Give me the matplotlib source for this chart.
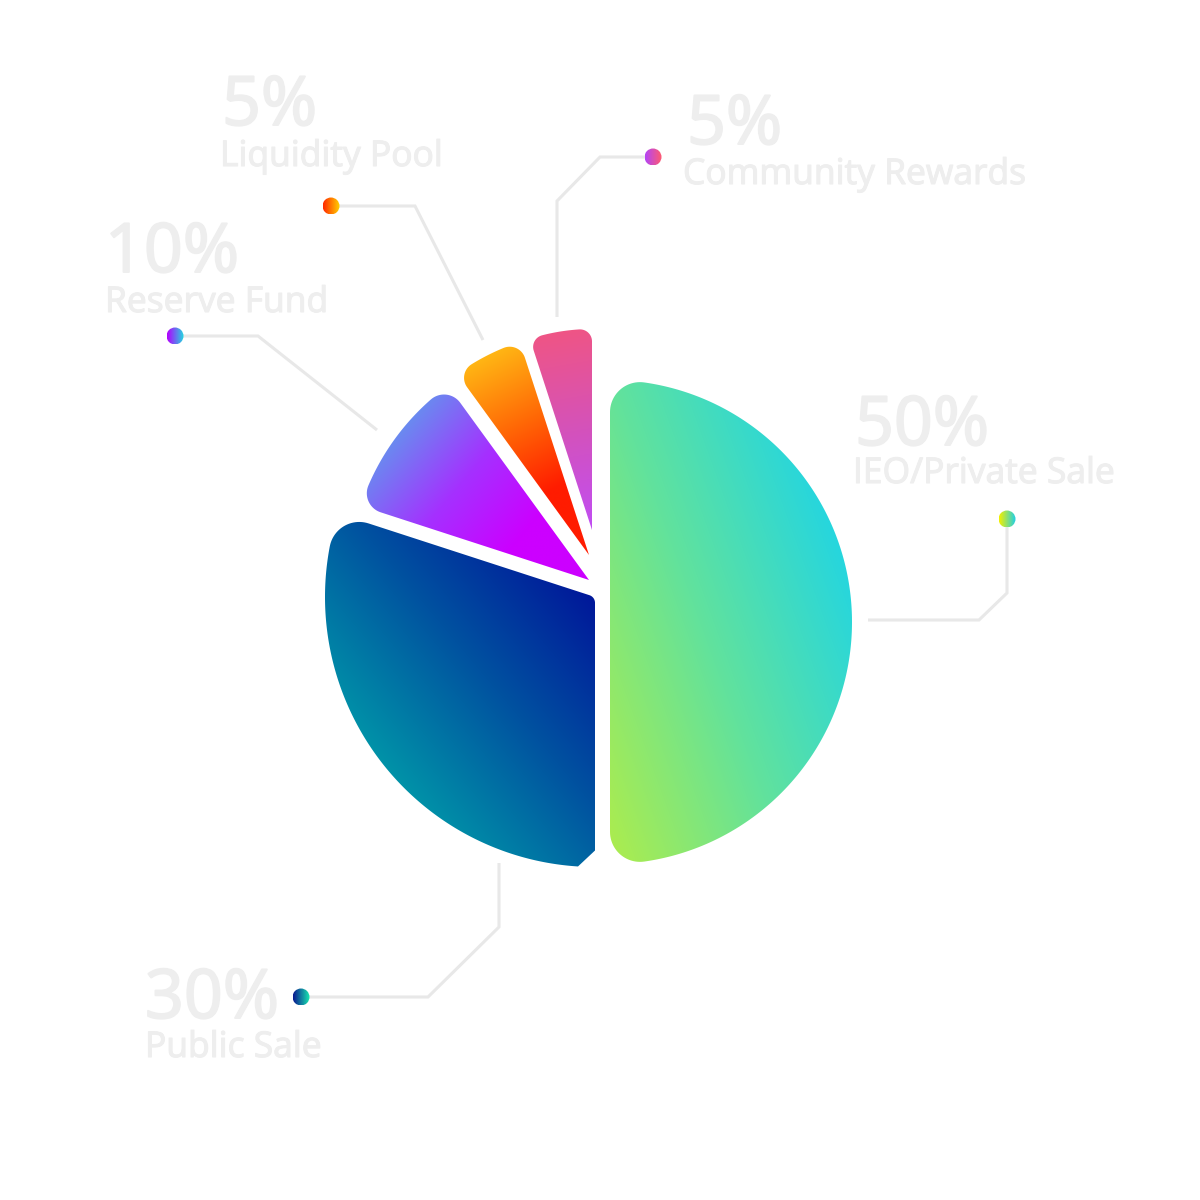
import numpy as np
import matplotlib
matplotlib.use("Agg")
import matplotlib.pyplot as plt
import matplotlib.patheffects as pe
from matplotlib.path import Path
from matplotlib.patches import PathPatch, Circle
from matplotlib.colors import to_rgb

# ---------------- data ----------------
categories = ["IEO/Private Sale", "Public Sale", "Reserve Fund", "Liquidity Pool", "Community Rewards"]
shares = [50, 30, 10, 5, 5]

# ---------------- style ----------------
W = H = 1200
PIE_CENTER = (600, 600)
slice_radius = [242, 270, 240, 224, 201]
slice_shift = [(10, -22), (-5, 3), (-11, 20), (-11, 45), (-8, 70)]
corner_start = [30, 30, 20, 16, 12]      # fillet at wedge.theta1 side
corner_end = [30, 16, 20, 16, 12]        # fillet at wedge.theta2 side
end_style = ['round', 'chamfer', 'round', 'round', 'round']
apex_round = [0, 8, 0, 0, 0]
grad_angle = [20, 40, -40, -63, -80]
grad_colors = [
    ['#aaec50', '#62e29c', '#26d6de'],
    ['#0092a8', '#0052a0', '#00189a'],
    ['#6a8af0', '#a530ff', '#cc00ff', '#cc00ff'],
    ['#ffb614', '#ff6a06', '#ff1c00', '#ff1c00'],
    ['#ef5585', '#d452bb', '#c04ef4'],
]
dot_colors = [('#f2f000', '#1ecfe8'), ('#0a1a90', '#18e8b0'), ('#b400ff', '#22d8e0'),
              ('#ff2a00', '#ffd000'), ('#b445f5', '#ff5a70')]
# label layout in pixel coordinates (x right, y down)
pct_pos = [(855, 445), (145, 1018), (105, 272), (222, 125), (687, 144)]
name_pos = [(853, 483), (145, 1057), (105, 312), (220, 166), (683, 184)]
dot_pos = [(1007, 519), (301, 997), (175, 336), (331, 206), (653, 157)]
leaders = [
    [(1007, 519), (1007, 593), (979, 620), (868, 620)],
    [(301, 997), (428, 997), (499, 927), (499, 863)],
    [(175, 336), (258, 336), (377, 430)],
    [(331, 206), (415, 206), (483, 340)],
    [(653, 157), (600, 157), (557, 201), (557, 317)],
]
TEXT_COLOR = '#eeeeee'
LINE_COLOR = '#e8e8e8'
FONT = ['Open Sans', 'DejaVu Sans']


def px(p):
    return (p[0], H - p[1])


def d(a):
    return np.array([np.cos(a), np.sin(a)])


def arc_pts(c, rad, a0, a1, n):
    a = np.linspace(a0, a1, n)
    return np.column_stack([c[0] + rad * np.cos(a), c[1] + rad * np.sin(a)])


def rounded_wedge_path(center, r, th1, th2, rc1, rc2, style2, ra):
    A = np.asarray(center, float)
    t1, t2 = np.radians(th1), np.radians(th2)
    span = t2 - t1
    pts = []
    if ra > 0 and span < np.pi - 1e-6:
        h = span / 2
        F = A + d(t1 + h) * ra / np.sin(h)
        pts.append(arc_pts(F, ra, t2 + np.pi / 2, t1 + 1.5 * np.pi, 16))
    else:
        pts.append(A[None, :])
    dl1 = np.arcsin(rc1 / (r - rc1))
    F1 = A + (r - rc1) * d(t1 + dl1)
    pts.append(arc_pts(F1, rc1, t1 - np.pi / 2, t1 + dl1, 24))
    dl2 = np.arcsin(rc2 / (r - rc2))
    pts.append(arc_pts(A, r, t1 + dl1, t2 - dl2, 240))
    F2 = A + (r - rc2) * d(t2 - dl2)
    if style2 == 'chamfer':
        pts.append(np.array([A + r * d(t2 - dl2), A + (r - rc2) * np.cos(dl2) * d(t2)]))
    else:
        pts.append(arc_pts(F2, rc2, t2 - dl2, t2 + np.pi / 2, 24))
    verts = np.vstack(pts)
    verts = np.vstack([verts, verts[:1]])
    codes = [Path.MOVETO] + [Path.LINETO] * (len(verts) - 2) + [Path.CLOSEPOLY]
    return Path(verts, codes)


def gradient_fill(ax, path, angle_deg, colors, zorder=2):
    patch = PathPatch(path, facecolor='none', edgecolor='none')
    ax.add_patch(patch)
    v = path.vertices
    x0, y0 = v.min(0) - 2
    x1, y1 = v.max(0) + 2
    nx = int(np.ceil(x1 - x0)) + 1
    ny = int(np.ceil(y1 - y0)) + 1
    X, Y = np.meshgrid(np.linspace(x0, x1, nx), np.linspace(y0, y1, ny))
    u = d(np.radians(angle_deg))
    proj = X * u[0] + Y * u[1]
    pv = v @ u
    t = np.clip((proj - pv.min()) / (pv.max() - pv.min()), 0, 1)
    cols = np.array([to_rgb(c) for c in colors])
    stops = np.linspace(0, 1, len(cols))
    img = np.stack([np.interp(t, stops, cols[:, k]) for k in range(3)], axis=-1)
    im = ax.imshow(img, extent=(x0, x1, y0, y1), origin='lower',
                   interpolation='bilinear', zorder=zorder)
    im.set_clip_path(patch)


def gradient_dot(ax, c, r, c0, c1):
    circ = Circle(c, r, facecolor='none', edgecolor='none')
    ax.add_patch(circ)
    t = np.linspace(0, 1, 32)
    a, b = np.array(to_rgb(c0)), np.array(to_rgb(c1))
    img = (a[None, :] * (1 - t[:, None]) + b[None, :] * t[:, None])[None, :, :]
    im = ax.imshow(img, extent=(c[0] - r, c[0] + r, c[1] - r, c[1] + r),
                   origin='lower', interpolation='bilinear', zorder=5)
    im.set_clip_path(circ)


fig = plt.figure(figsize=(12, 12), dpi=100)
fig.patch.set_facecolor('white')
ax = fig.add_axes([0, 0, 1, 1])

wedges, _ = ax.pie(shares, startangle=90, counterclock=False,
                   center=PIE_CENTER, radius=slice_radius[0])

for i, w in enumerate(wedges):
    cx = PIE_CENTER[0] + slice_shift[i][0]
    cy = PIE_CENTER[1] + slice_shift[i][1]
    w.set_center((cx, cy))
    w.set_radius(slice_radius[i])
    w.set_visible(False)
    path = rounded_wedge_path((cx, cy), slice_radius[i], w.theta1, w.theta2,
                              corner_start[i], corner_end[i], end_style[i], apex_round[i])
    gradient_fill(ax, path, grad_angle[i], grad_colors[i])

pct_fx = [pe.withStroke(linewidth=1.4, foreground=TEXT_COLOR)]
name_fx = [pe.withStroke(linewidth=0.8, foreground=TEXT_COLOR)]
for i, cat in enumerate(categories):
    pts = np.array([px(p) for p in leaders[i]])
    ax.plot(pts[:, 0], pts[:, 1], color=LINE_COLOR, lw=2.2,
            solid_capstyle='butt', solid_joinstyle='miter', zorder=1)
    gradient_dot(ax, px(dot_pos[i]), 8.5, *dot_colors[i])
    ax.text(*px(pct_pos[i]), f"{shares[i]}%", fontsize=49, color=TEXT_COLOR,
            family=FONT, ha='left', va='baseline', zorder=3, path_effects=pct_fx)
    ax.text(*px(name_pos[i]), cat, fontsize=25.5, color=TEXT_COLOR,
            family=FONT, ha='left', va='baseline', zorder=3, path_effects=name_fx)

ax.set_xlim(0, W)
ax.set_ylim(0, H)
ax.set_aspect('auto')
ax.axis('off')
fig.savefig('out.png', dpi=100, facecolor='white')
